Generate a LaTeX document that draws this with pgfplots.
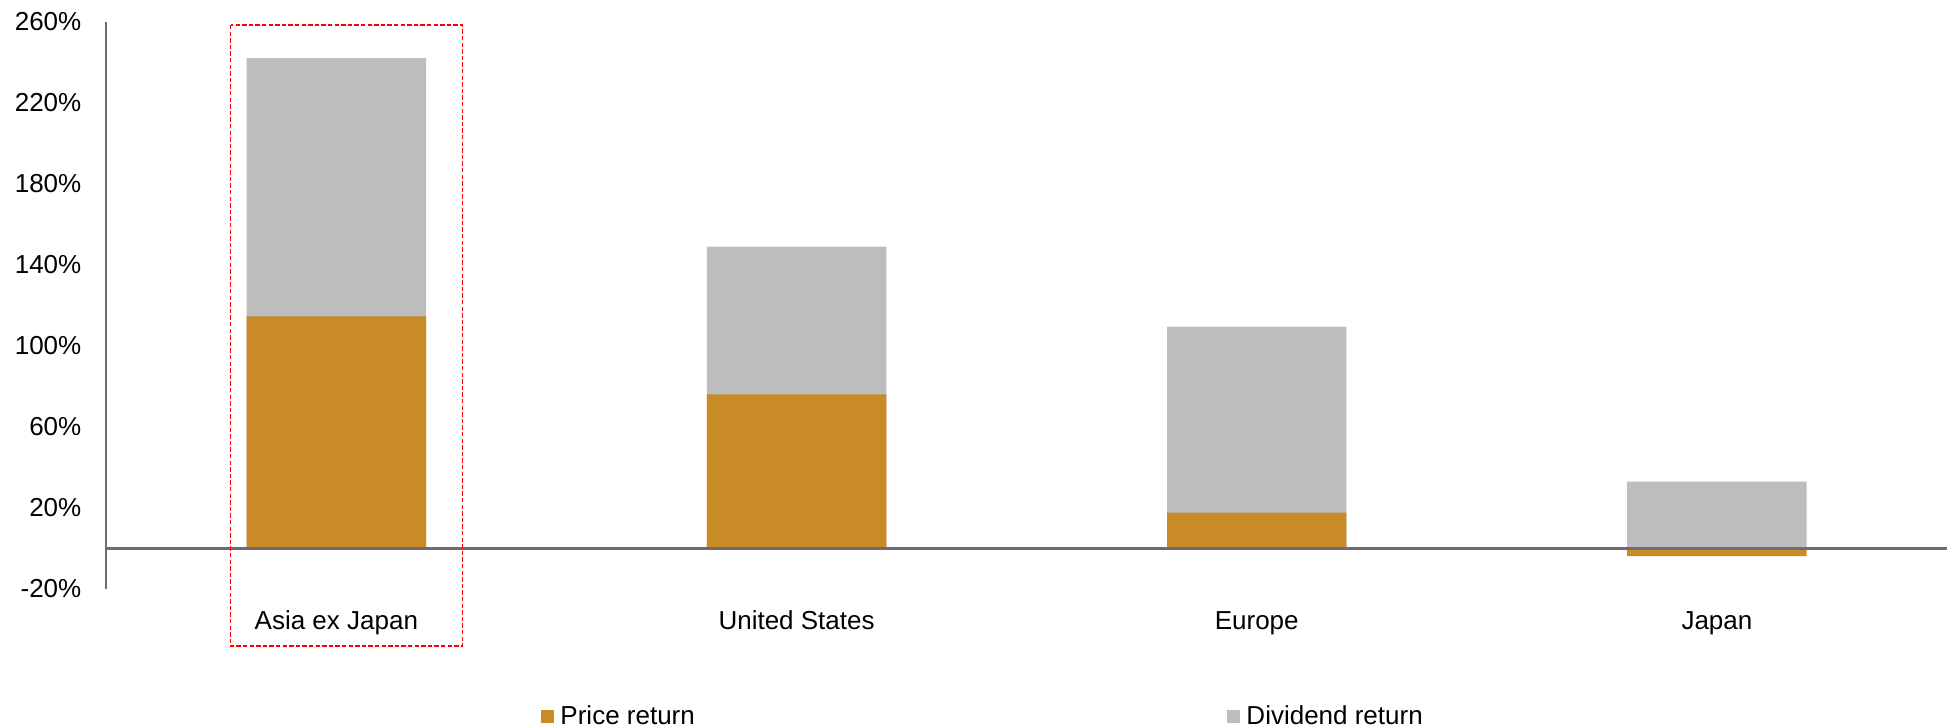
\documentclass[border=0pt]{standalone}
\usepackage{pgfplots}
\pgfplotsset{compat=1.18}
\usepackage{pgfplotstable}
\usepackage{fontspec}
\setmainfont{Liberation Sans}
\definecolor{pricec}{RGB}{201,139,37}
\definecolor{divc}{RGB}{189,189,191}
\definecolor{axisc}{RGB}{108,108,113}
\pgfplotstableread{
x price dividend
0 114.5 127.5
1 76.0 73.0
2 17.7 91.8
3 -3.8 33.0
}\returns
\begin{document}
\begin{tikzpicture}
\useasboundingbox (0,0) rectangle (974pt,363.5pt);
\begin{axis}[
  at={(53.15pt,69pt)}, anchor=south west,
  scale only axis, width=920.35pt, height=283.65pt,
  xmin=-0.5, xmax=3.5, ymin=-20, ymax=260,
  axis x line*=bottom, axis y line*=left,
  x axis line style={draw=none},
  y axis line style={draw=axisc, line width=1.1pt},
  major tick length=0pt,
  xtick={0,1,2,3},
  xticklabels={Asia ex Japan, United States, Europe, Japan},
  ytick={-20,20,60,100,140,180,220,260},
  yticklabels={-20\%,20\%,60\%,100\%,140\%,180\%,220\%,260\%},
  ticklabel style={font=\fontsize{13}{15}\selectfont, inner sep=0pt},
  xticklabel style={anchor=base, yshift=-20.5pt},
  yticklabel style={anchor=east, xshift=-12.3pt},
  clip=false,
  legend columns=2,
  legend cell align=left,
  legend image code/.code={\fill[#1] (0pt,-3.25pt) rectangle (6.5pt,3.25pt); \path (9.5pt,0pt);},
  legend style={at={(0.2362,-0.2247)}, anchor=west, draw=none, fill=none,
    inner sep=0pt, font=\fontsize{13}{15}\selectfont, nodes={inner sep=0pt}},
]
\addplot[ybar, bar width=0.39, bar shift=0pt, fill=divc, draw=none, forget plot]
  table[x=x, y expr={max(\thisrow{price},0)+\thisrow{dividend}}] {\returns};
\addplot[ybar, bar width=0.39, bar shift=0pt, fill=pricec, draw=none, forget plot]
  table[x=x, y=price] {\returns};
\addplot[forget plot, axisc, line width=1.3pt, mark=none] coordinates {(-0.5,0) (3.5,0)};
\draw[red, line width=0.7pt, dash pattern=on 2.2pt off 1.1pt]
  (axis cs:-0.2297,258.4) rectangle (axis cs:0.2736,-48.2);
\addlegendimage{fill=pricec, draw=none}
\addlegendentry{\makebox[333.5pt][l]{Price return}}
\addlegendimage{fill=divc, draw=none}
\addlegendentry{Dividend return}
\end{axis}
\end{tikzpicture}
\end{document}
